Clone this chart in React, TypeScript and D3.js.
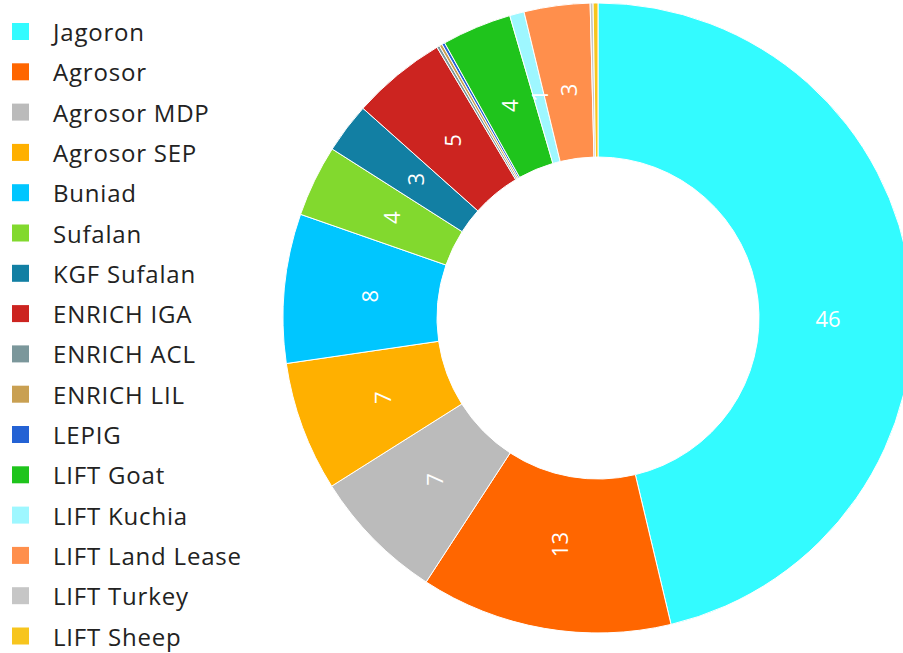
import React, { useEffect, useRef } from 'react';
import * as d3 from 'd3';

// programme names, in drawing order (clockwise from 12 o'clock)
const programmes = [
  'Jagoron', 'Agrosor', 'Agrosor MDP', 'Agrosor SEP', 'Buniad', 'Sufalan',
  'KGF Sufalan', 'ENRICH IGA', 'ENRICH ACL', 'ENRICH LIL', 'LEPIG', 'LIFT Goat',
  'LIFT Kuchia', 'LIFT Land Lease', 'LIFT Turkey', 'LIFT Sheep',
];
// share of each programme (%)
const shares = [
  46.6, 13.0, 6.9, 6.7, 7.7, 3.7,
  2.6, 4.9, 0.15, 0.15, 0.15, 3.6,
  0.75, 3.4, 0.15, 0.25,
];
const colours = [
  '#33fbff', '#ff6600', '#bbbbbb', '#ffb000', '#00c6ff', '#82d92e',
  '#127fa3', '#cc2420', '#7b979b', '#c9a052', '#2462d4', '#1fc41c',
  '#9ef7ff', '#ff8f4c', '#c6c6c6', '#f7c51e',
];

const W = 903;
const H = 653;
const FONT = '"Open Sans", Lato, sans-serif';

export default function App() {
  const svgRef = useRef<SVGSVGElement>(null);

  useEffect(() => {
    const svg = d3.select(svgRef.current);
    svg.selectAll('*').remove();

    const data = programmes.map((name, i) => ({ name, value: shares[i], colour: colours[i] }));
    const total = d3.sum(data, d => d.value);

    const cx = 598, cy = 318;
    const outer = 315, inner = 161;

    const pie = d3.pie<any>().value(d => d.value).sort(null);
    const arc = d3.arc<any>().innerRadius(inner).outerRadius(outer);
    const labelArc = d3.arc<any>().innerRadius(230).outerRadius(230);

    const g = svg.append('g').attr('transform', `translate(${cx},${cy})`);
    const arcs = pie(data);

    g.selectAll('path')
      .data(arcs)
      .enter().append('path')
      .attr('d', arc)
      .attr('fill', d => d.data.colour)
      .attr('stroke', '#fff')
      .attr('stroke-width', 1);

    // value labels, hidden for slivers; the big slice keeps its label level
    g.selectAll('text')
      .data(arcs.filter(d => d.data.value / total >= 0.005))
      .enter().append('text')
      .attr('transform', d => {
        let [x, y] = labelArc.centroid(d);
        const big = d.data.value / total > 0.25;
        if (big) { x = 230; y = 0; }
        return `translate(${x},${y}) rotate(${big ? 0 : -90})`;
      })
      .attr('text-anchor', 'middle')
      .attr('dominant-baseline', 'central')
      .attr('fill', '#fff')
      .style('font-family', FONT)
      .style('font-size', '22px')
      .text(d => Math.round((d.data.value / total) * 100));

    // legend
    const legend = svg.append('g').attr('transform', 'translate(12,31.5)');
    const step = 40.3;
    data.forEach((d, i) => {
      legend.append('rect')
        .attr('x', 0).attr('y', i * step - 8.5)
        .attr('width', 17).attr('height', 17)
        .attr('fill', d.colour);
      legend.append('text')
        .attr('x', 41).attr('y', i * step)
        .attr('dominant-baseline', 'central')
        .attr('fill', '#222')
        .style('font-family', FONT)
        .style('font-size', '24px')
        .style('letter-spacing', '0.8px')
        .text(d.name);
    });
  }, []);

  return (
    <svg
      ref={svgRef}
      width={W}
      height={H}
      style={{ position: 'absolute', left: 0, top: 0, background: '#fff' }}
    />
  );
}
